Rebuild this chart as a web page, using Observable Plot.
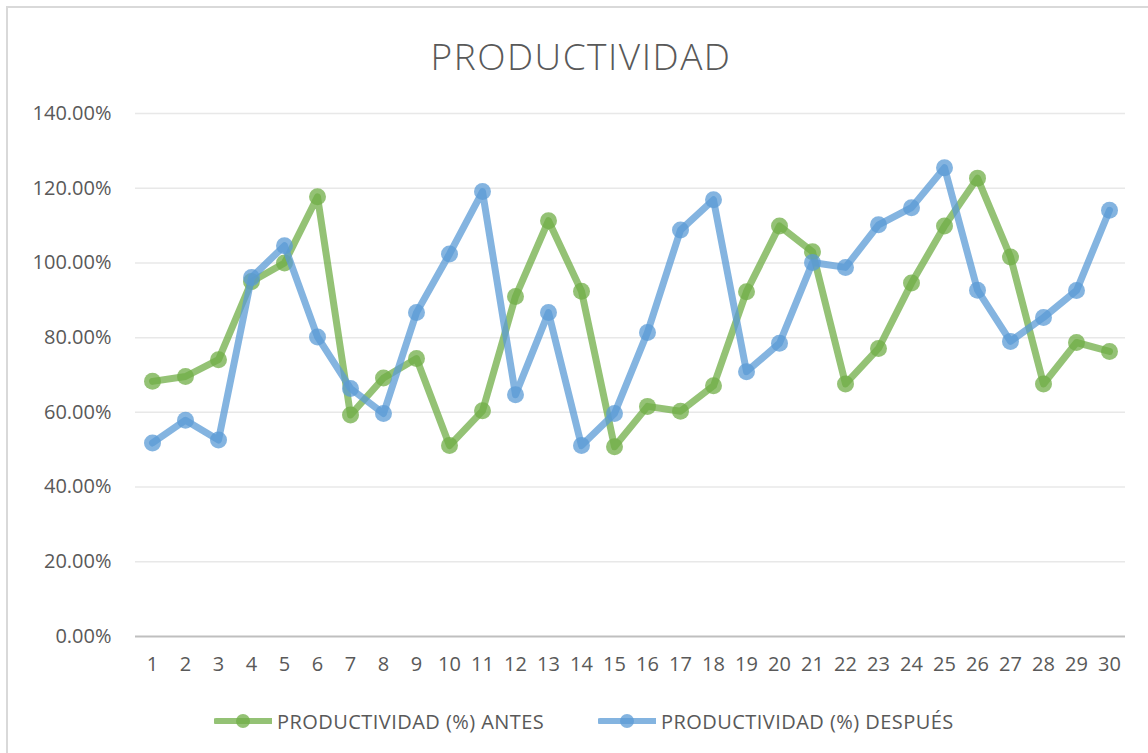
<!DOCTYPE html>
<html>
<head>
<meta charset="utf-8">
<script src="https://cdn.jsdelivr.net/npm/d3@7"></script>
<script src="https://cdn.jsdelivr.net/npm/@observablehq/plot@0.6"></script>
<style>
  html, body { margin: 0; padding: 0; background: #fff; }
  #wrap { position: relative; width: 1148px; height: 753px; overflow: hidden; font-family: "Open Sans", sans-serif; }
  #frame { position: absolute; left: 6px; top: 6px; width: 1200px; height: 800px; border: 2px solid #d9d9d9; box-sizing: border-box; }
  #title { position: absolute; left: 7px; width: 1148px; top: 30px; text-align: center; font-size: 37px; font-weight: 300; color: #595959; line-height: 52px; letter-spacing: 1.5px; }
  #chart { position: absolute; left: 0; top: 90px; }
  #legend { position: absolute; top: 706px; left: 0; width: 1148px; height: 30px; font-size: 20px; color: #595959; letter-spacing: 0.45px; }
  .item { position: absolute; display: flex; align-items: center; height: 30px; white-space: nowrap; }
  .item svg { margin-right: 5px; }
</style>
</head>
<body>
<div id="wrap">
  <div id="frame"></div>
  <div id="title">PRODUCTIVIDAD</div>
  <div id="chart"></div>
  <div id="legend"></div>
</div>
<script>
const dias = [1,2,3,4,5,6,7,8,9,10,11,12,13,14,15,16,17,18,19,20,21,22,23,24,25,26,27,28,29,30];
const antes = [68.3, 69.6, 74.1, 95.0, 100.0, 117.7, 59.3, 69.2, 74.4, 51.1, 60.4, 91.0, 111.3, 92.4, 50.8, 61.6, 60.3, 67.1, 92.3, 109.9, 103.0, 67.6, 77.1, 94.6, 109.9, 122.7, 101.6, 67.6, 78.7, 76.3];
const despues = [51.8, 57.9, 52.6, 96.1, 104.6, 80.2, 66.4, 59.7, 86.7, 102.4, 119.1, 64.7, 86.7, 51.1, 59.7, 81.4, 108.8, 116.9, 70.9, 78.5, 100.1, 98.8, 110.2, 114.8, 125.5, 92.7, 79.0, 85.4, 92.6, 114.1];
const yTicks = [0, 20, 40, 60, 80, 100, 120, 140];
const series = [
  {name: "PRODUCTIVIDAD (%) ANTES", values: antes, color: "#70AD47"},
  {name: "PRODUCTIVIDAD (%) DESPUÉS", values: despues, color: "#5B9BD5"}
];

const rows = series.flatMap(s => s.values.map((v, i) => ({dia: dias[i], valor: v, serie: s.name})));
const op = 0.75;

const marks = [
  Plot.gridY(yTicks.filter(t => t > 0), {stroke: "#e8e8e8", strokeOpacity: 1, strokeWidth: 1.5}),
  Plot.ruleY([0], {stroke: "#bfbfbf", strokeWidth: 2}),
  Plot.axisY({ticks: yTicks, tickSize: 0, tickPadding: 24, tickFormat: d => d.toFixed(2) + "%", fontSize: 20, fill: "#595959", label: null, style: {letterSpacing: "1.1px"}}),
  Plot.axisX({tickSize: 0, tickPadding: 20, fontSize: 20, fill: "#595959", label: null})
];
for (const s of series) {
  const data = rows.filter(r => r.serie === s.name);
  marks.push(Plot.line(data, {x: "dia", y: "valor", stroke: s.color, strokeWidth: 7, strokeOpacity: op, strokeLinejoin: "round", strokeLinecap: "round"}));
  marks.push(Plot.dot(data, {x: "dia", y: "valor", r: 8.5, fill: s.color, fillOpacity: op, stroke: "none"}));
}

const chart = Plot.plot({
  width: 1148,
  height: 600,
  marginTop: 23,
  marginBottom: 54,
  marginLeft: 135,
  marginRight: 23,
  style: {fontFamily: "'Open Sans', sans-serif", background: "transparent", color: "#595959"},
  x: {type: "point", domain: dias, padding: 0.5},
  y: {domain: [0, 140]},
  marks
});
document.getElementById("chart").appendChild(chart);

// Legend
const legend = document.getElementById("legend");
const lefts = [214, 598];
series.forEach((s, i) => {
  const item = document.createElement("div");
  item.className = "item";
  item.style.left = lefts[i] + "px";
  item.innerHTML = `<svg width="58" height="20"><line x1="2" y1="10" x2="58" y2="10" stroke="${s.color}" stroke-opacity="${op}" stroke-width="6" stroke-linecap="round"/><circle cx="29" cy="10" r="7" fill="${s.color}" fill-opacity="${op}"/></svg><span>${s.name}</span>`;
  legend.appendChild(item);
});
</script>
</body>
</html>
